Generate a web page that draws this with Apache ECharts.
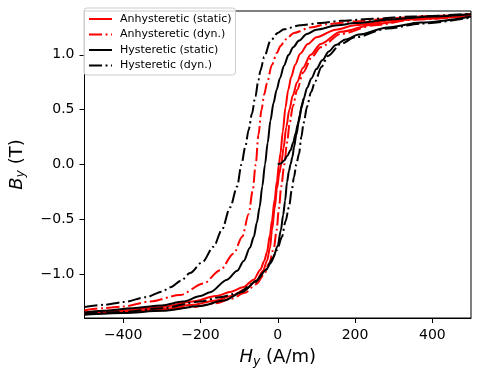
<!DOCTYPE html>
<html>
<head>
<meta charset="utf-8">
<script src="https://cdn.jsdelivr.net/npm/echarts@6/dist/echarts.min.js"></script>
<style>
  html, body { margin: 0; padding: 0; background: #fff; }
  #chart { width: 480px; height: 381px; }
</style>
</head>
<body>
<div id="chart"></div>
<script>
// ---- data (H in A/m, B in T) ----
const legendNames = ['Anhysteretic (static)', 'Anhysteretic (dyn.)', 'Hysteretic (static)', 'Hysteretic (dyn.)'];
const xTicks = [-400, -200, 0, 200, 400];
const yTicks = [-1.0, -0.5, 0.0, 0.5, 1.0];

const anhStaticDown = [[-500,-1.35],[-400,-1.33],[-300,-1.30],[-220,-1.25],[-160,-1.20],[-120,-1.16],[-90,-1.12],[-62,-1.05],[-45,-0.96],[-35,-0.88],[-28,-0.80],[-20,-0.64],[-15,-0.51],[-8,-0.32],[-2,-0.15],[3,0],[7,0.10],[13,0.30],[20,0.52],[27,0.68],[35,0.80],[45,0.91],[58,1.01],[78,1.10],[100,1.16],[150,1.23],[200,1.27],[300,1.315],[400,1.345],[500,1.37]];
const anhStaticUp = [[-500,-1.36],[-400,-1.345],[-300,-1.32],[-220,-1.28],[-160,-1.24],[-120,-1.20],[-85,-1.14],[-55,-1.06],[-38,-0.97],[-28,-0.88],[-20,-0.76],[-15,-0.60],[-8,-0.40],[-2,-0.22],[4,-0.08],[9,0],[15,0.15],[22,0.34],[30,0.50],[39,0.63],[50,0.75],[65,0.88],[85,1.0],[111,1.10],[163,1.21],[250,1.28],[350,1.325],[500,1.36]];

const anhDynDown = [[-500,-1.33],[-450,-1.31],[-400,-1.295],[-330,-1.25],[-253,-1.19],[-192,-1.085],[-149,-0.964],[-114,-0.812],[-92,-0.66],[-75,-0.45],[-65,-0.24],[-57,0],[-50,0.27],[-42,0.50],[-35,0.64],[-28,0.74],[-15,0.91],[-2,1.02],[7,1.08],[20,1.14],[42,1.20],[85,1.25],[128,1.28],[200,1.305],[300,1.335],[400,1.355],[500,1.37]];
const anhDynUp = [[-500,-1.365],[-400,-1.35],[-300,-1.33],[-220,-1.30],[-160,-1.265],[-120,-1.225],[-85,-1.17],[-55,-1.09],[-35,-1.0],[-22,-0.90],[-10,-0.76],[-3,-0.60],[3,-0.40],[9,-0.20],[17,0],[24,0.20],[31,0.38],[39,0.53],[50,0.68],[66,0.84],[88,0.98],[111,1.07],[163,1.19],[250,1.27],[350,1.32],[500,1.36]];

const hystStaticDown = [[-500,-1.35],[-450,-1.335],[-375,-1.31],[-300,-1.285],[-245,-1.25],[-200,-1.20],[-175,-1.165],[-131,-1.05],[-105,-0.97],[-88,-0.88],[-72,-0.76],[-62,-0.66],[-54,-0.53],[-47,-0.39],[-40,-0.20],[-33,0],[-26,0.20],[-19,0.40],[-11,0.56],[-3,0.68],[6,0.79],[16,0.90],[28,1.00],[40,1.07],[55,1.13],[75,1.19],[100,1.23],[154,1.27],[200,1.29],[300,1.325],[400,1.35],[500,1.37]];
const hystStaticUp = [[-500,-1.37],[-400,-1.355],[-300,-1.335],[-200,-1.29],[-140,-1.24],[-90,-1.16],[-55,-1.06],[-30,-0.96],[-12,-0.85],[0,-0.74],[8,-0.60],[14,-0.46],[19,-0.33],[24,-0.16],[29,-0.06],[33,0],[38,0.07],[42,0.157],[48,0.27],[55,0.40],[61,0.51],[67,0.60],[76,0.70],[87,0.785],[100,0.87],[115,0.95],[132,1.03],[150,1.09],[175,1.14],[210,1.185],[284,1.25],[370,1.295],[500,1.35]];
const hystStaticInitial = [[0,0],[8,0.01],[16,0.035],[25,0.08],[33,0.13],[40,0.20],[46,0.28],[52,0.37],[57,0.45],[62,0.54],[67,0.60]];

const hystDynDown = [[-500,-1.30],[-450,-1.28],[-400,-1.255],[-340,-1.21],[-300,-1.16],[-278,-1.12],[-250,-1.06],[-227,-0.99],[-195,-0.89],[-166,-0.75],[-145,-0.60],[-123,-0.39],[-105,-0.20],[-94,0],[-84,0.16],[-75,0.32],[-67,0.46],[-58,0.62],[-50,0.77],[-45,0.855],[-35,0.98],[-19,1.127],[0,1.20],[16,1.234],[59,1.27],[111,1.29],[163,1.31],[250,1.33],[350,1.35],[500,1.375]];
const hystDynUp = [[-500,-1.36],[-400,-1.345],[-300,-1.31],[-200,-1.25],[-150,-1.21],[-105,-1.175],[-62,-1.085],[-35,-0.98],[-19,-0.90],[-2,-0.78],[11,-0.66],[20,-0.52],[29,-0.39],[36,-0.24],[42,-0.115],[48,0],[55,0.097],[61,0.25],[67,0.38],[76,0.53],[86,0.66],[97,0.76],[113,0.89],[130,0.99],[163,1.10],[200,1.16],[284,1.24],[370,1.285],[500,1.34]];

// ---- chart ----
const FONT = 'DejaVu Sans';
const DASHDOT = [13, 3.5, 2, 3.5];
function mk(name, data, color, dashed) {
  return {
    name: name, type: 'line', data: data, symbol: 'none', showSymbol: false,
    smooth: 0.3, smoothMonotone: 'x', clip: true, silent: true,
    lineStyle: { color: color, width: 2, type: dashed ? DASHDOT : 'solid', cap: 'butt' },
    itemStyle: { color: color }
  };
}
function fmtMinus(s) { return s.charAt(0) === '-' ? '\u2212' + s.slice(1) : s; }

const nameRich = {
  i: { fontFamily: FONT, fontSize: 18, fontStyle: 'italic', color: '#000' },
  s: { fontFamily: FONT, fontSize: 12.5, fontStyle: 'italic', color: '#000', padding: [8, 0, 0, 0] },
  n: { fontFamily: FONT, fontSize: 18, color: '#000' }
};

const chart = echarts.init(document.getElementById('chart'), null, { renderer: 'canvas' });
chart.setOption({
  animation: false,
  backgroundColor: '#ffffff',
  textStyle: { fontFamily: FONT },
  grid: { left: 83, right: 9, top: 11, bottom: 63, show: true, borderColor: '#000', borderWidth: 1, backgroundColor: 'transparent' },
  xAxis: {
    type: 'value', min: -500, max: 500,
    name: '{i|H}{s|y}{n| (A/m)}', nameLocation: 'middle', nameGap: 29,
    nameTextStyle: { rich: nameRich },
    axisLine: { show: true, onZero: false, lineStyle: { color: '#000', width: 1 } },
    axisTick: { show: true, length: 5, customValues: xTicks, lineStyle: { color: '#000', width: 1 } },
    axisLabel: { customValues: xTicks, margin: 10, fontSize: 14, color: '#000', fontFamily: FONT,
      formatter: v => fmtMinus(String(v)) },
    splitLine: { show: false }
  },
  yAxis: {
    type: 'value', min: -1.4, max: 1.4,
    name: '{i|B}{s|y}{n| (T)}', nameLocation: 'middle', nameGap: 57, nameRotate: 90,
    nameTextStyle: { rich: nameRich },
    axisLine: { show: true, onZero: false, lineStyle: { color: '#000', width: 1 } },
    axisTick: { show: true, length: 5, customValues: yTicks, lineStyle: { color: '#000', width: 1 } },
    axisLabel: { customValues: yTicks, margin: 10, fontSize: 14, color: '#000', fontFamily: FONT,
      formatter: v => fmtMinus(Number(v).toFixed(1)) },
    splitLine: { show: false }
  },
  legend: {
    data: legendNames, orient: 'vertical', left: 84, top: 8,
    itemWidth: 23, itemHeight: 8, itemGap: 4.5,
    padding: [5.5, 4, 4, 4],
    itemStyle: { opacity: 0 },
    backgroundColor: 'rgba(255,255,255,0.8)', borderColor: '#cccccc', borderWidth: 1, borderRadius: 3,
    textStyle: { fontSize: 11, fontFamily: FONT, color: '#000', padding: [0, 0, 0, 3] },
    selectedMode: false
  },
  series: [
    mk(legendNames[0], anhStaticDown, '#ff0000', false),
    mk(legendNames[0], anhStaticUp, '#ff0000', false),
    mk(legendNames[1], anhDynDown, '#ff0000', true),
    mk(legendNames[1], anhDynUp, '#ff0000', true),
    mk(legendNames[2], hystStaticDown, '#000000', false),
    mk(legendNames[2], hystStaticUp, '#000000', false),
    mk(legendNames[2], hystStaticInitial, '#000000', false),
    mk(legendNames[3], hystDynDown, '#000000', true),
    mk(legendNames[3], hystDynUp, '#000000', true)
  ]
});
</script>
</body>
</html>
